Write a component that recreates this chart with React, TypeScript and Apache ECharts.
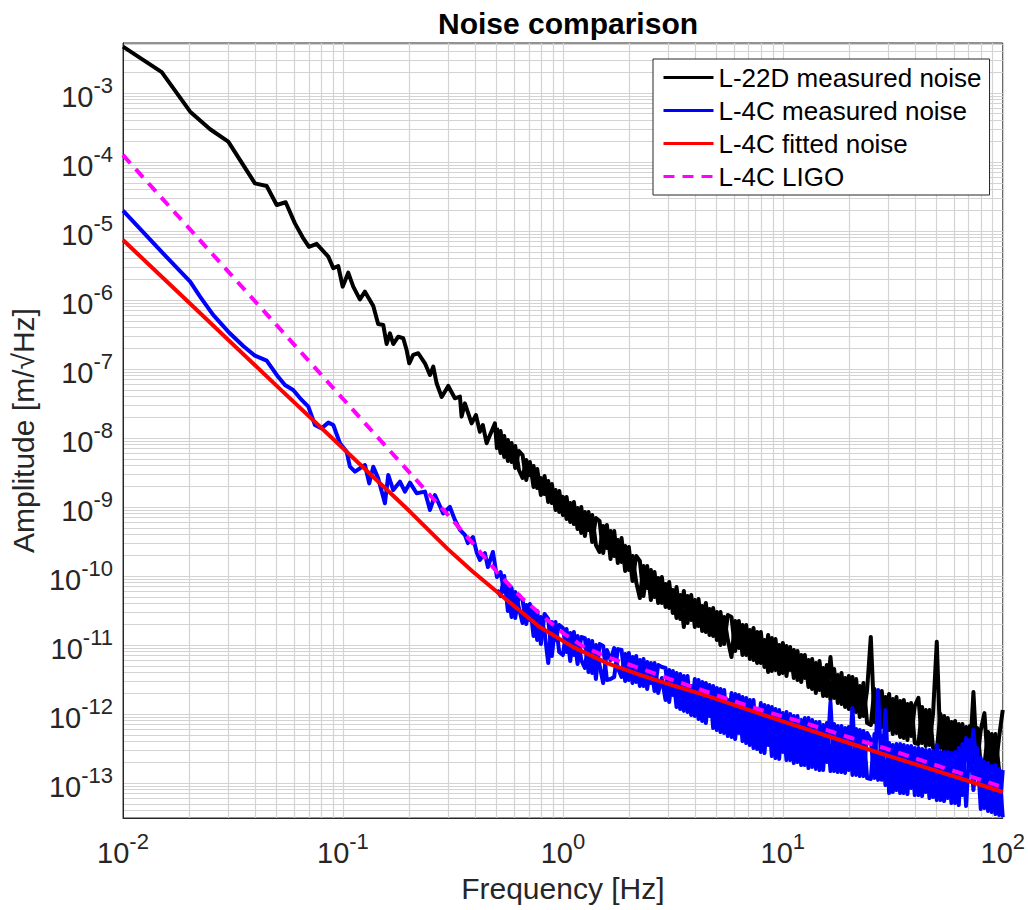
import React, { useEffect, useRef } from "react";
import * as echarts from "echarts";

const FONT = "'Liberation Sans', Arial, Helvetica, sans-serif";

// ---------- data (frequency in Hz, amplitude in m/sqrt(Hz)) ----------
const blackLowF = [0.01, 0.015, 0.0202, 0.0249, 0.0301, 0.0398, 0.045, 0.05, 0.0549, 0.0605, 0.0656, 0.0701, 0.0759, 0.0858, 0.0904, 0.0952, 0.0997, 0.1057, 0.1114, 0.1194, 0.1259, 0.1374, 0.1446, 0.1525, 0.158, 0.1636, 0.1693, 0.1784, 0.188, 0.1948, 0.2002, 0.2087, 0.22, 0.236, 0.2487, 0.2574, 0.2667, 0.2811, 0.3012, 0.3228, 0.3404, 0.3463, 0.3585, 0.3846, 0.4023, 0.4195, 0.4327, 0.45, 0.4658, 0.491];
const blackLowA = [4.7e-3, 2.0e-3, 5.36e-4, 2.98e-4, 1.97e-4, 4.9e-5, 4.49e-5, 2.38e-5, 2.61e-5, 1.29e-5, 8.1e-6, 5.9e-6, 6.5e-6, 4.25e-6, 2.88e-6, 3.11e-6, 1.56e-6, 2.49e-6, 1.56e-6, 1.02e-6, 1.32e-6, 8.2e-7, 4.49e-7, 4.35e-7, 2.3e-7, 3.29e-7, 2.3e-7, 2.94e-7, 2.79e-7, 1.88e-7, 1.21e-7, 1.6e-7, 1.69e-7, 1.21e-7, 8.2e-8, 1.08e-7, 6.2e-8, 3.93e-8, 5.68e-8, 3.76e-8, 3.97e-8, 2.04e-8, 3.18e-8, 1.63e-8, 2.15e-8, 1.23e-8, 1.54e-8, 8.4e-9, 1.1e-8, 1.63e-8];

const blueLowF = [0.01, 0.0147, 0.0202, 0.0224, 0.0257, 0.0306, 0.0352, 0.0398, 0.045, 0.05, 0.0545, 0.0594, 0.0649, 0.0696, 0.0746, 0.08, 0.0858, 0.0904, 0.0969, 0.104, 0.1076, 0.1134, 0.1194, 0.1259, 0.1317, 0.1374, 0.1446, 0.1552, 0.1607, 0.1693, 0.1816, 0.1914, 0.2017, 0.2163, 0.236, 0.2487, 0.2619, 0.2857, 0.3064, 0.3228, 0.3404, 0.3585, 0.37, 0.39, 0.4064, 0.4195, 0.4419, 0.456, 0.4808];
const blueLowA = [1.97e-5, 5.31e-6, 1.84e-6, 1.12e-6, 6.07e-7, 3.29e-7, 2.15e-7, 1.56e-7, 1.32e-7, 8.2e-8, 5.86e-8, 4.97e-8, 3.56e-8, 2.85e-8, 1.54e-8, 1.38e-8, 1.67e-8, 1.54e-8, 8.4e-9, 6.3e-9, 3.84e-9, 3.25e-9, 3.64e-9, 4.06e-9, 2.2e-9, 3.84e-9, 2.6e-9, 1.13e-9, 2.91e-9, 1.76e-9, 2.33e-9, 1.67e-9, 2.25e-9, 1.58e-9, 1.67e-9, 9.06e-10, 1.49e-9, 8.1e-10, 1.0e-9, 6.5e-10, 4.65e-10, 3.93e-10, 3.0e-10, 3.67e-10, 2.15e-10, 1.71e-10, 2.15e-10, 1.35e-10, 2.23e-10];

// shared frequency bins of the dense (noisy) high-frequency part
const denseF = [
  0.5012, 0.5208, 0.5412, 0.5623, 0.5843, 0.6072, 0.631, 0.6556, 0.6813, 0.7079, 0.7356, 0.7644, 0.7943, 0.8254, 0.8577, 0.8913, 0.9261, 0.9624,
  1.0, 1.039, 1.08, 1.122, 1.166, 1.212, 1.259, 1.308, 1.359, 1.413, 1.468, 1.525, 1.585, 1.647, 1.711, 1.778, 1.848, 1.92, 1.995, 2.073,
  2.154, 2.239, 2.326, 2.417, 2.512, 2.61, 2.712, 2.818, 2.929, 3.043, 3.162, 3.286, 3.415, 3.548, 3.687, 3.831, 3.981, 4.137, 4.299, 4.467,
  4.642, 4.823, 5.012, 5.208, 5.412, 5.623, 5.843, 6.072, 6.31, 6.556, 6.813, 7.079, 7.356, 7.644, 7.943, 8.254, 8.577, 8.913, 9.261, 9.624,
  10.0, 10.39, 10.8, 11.22, 11.66, 12.12, 12.59, 13.08, 13.59, 14.13, 14.68, 15.25, 15.85, 16.47, 17.11, 17.78, 18.48, 19.2, 19.95, 20.73,
  21.54, 22.39, 23.26, 24.17, 25.12, 26.1, 27.12, 28.18, 29.29, 30.43, 31.62, 32.86, 34.15, 35.48, 36.87, 38.31, 39.81, 41.37, 42.99, 44.67,
  46.42, 48.23, 50.12, 52.08, 54.12, 56.23, 58.43, 60.72, 63.1, 65.56, 68.13, 70.79, 73.56, 76.44, 79.43, 82.54, 85.77, 89.13, 92.61, 96.24,
  100.0,
];
// upper / lower excursions of the L-22D spectrum in each bin
const blackDenseA = [
  7.15e-9, 1.26e-8, 5.3e-9, 9.34e-9, 4.49e-9, 7.64e-9, 3.44e-9, 2.63e-9, 4.79e-9, 2.91e-9, 3.93e-9, 1.88e-9, 2.63e-9, 1.54e-9, 2.38e-9, 1.14e-9, 1.76e-9, 8.45e-10,
  1.4e-9, 6.69e-10, 1.14e-9, 5.66e-10, 9.65e-10, 4.2e-10, 8.45e-10, 4.64e-10, 7.64e-10, 2.81e-10, 2.23e-10, 5.3e-10, 2.54e-10, 4.49e-10, 1.95e-10, 3.32e-10, 1.6e-10, 2.72e-10, 1.22e-10, 1.95e-10,
  8.17e-11, 4.79e-11, 1.4e-10, 6.69e-11, 1.22e-10, 4.96e-11, 9.34e-11, 4.06e-11, 7.64e-11, 3.44e-11, 6.26e-11, 2.46e-11, 5.3e-11, 1.82e-11, 5.12e-11, 2.3e-11, 4.49e-11, 1.88e-11, 3.67e-11, 1.54e-11,
  3.32e-11, 1.35e-11, 3.01e-11, 1.0e-11, 2.54e-11, 1.18e-11, 6.69e-12, 2.23e-11, 9.03e-12, 1.95e-11, 7.15e-12, 1.65e-11, 6.05e-12, 1.54e-11, 5.48e-12, 1.18e-11, 4.06e-12, 1.26e-11, 4.34e-12, 1.0e-11,
  3.93e-12, 9.65e-12, 4.34e-12, 8.45e-12, 3.11e-12, 7.15e-12, 3.32e-12, 6.05e-12, 2.3e-12, 5.48e-12, 2.23e-12, 4.64e-12, 1.82e-12, 6.69e-12, 1.71e-12, 3.67e-12, 1.4e-12, 3.32e-12, 1.18e-12, 3.44e-12,
  1.07e-12, 2.54e-12, 9.34e-13, 2.23e-12, 1.31e-11, 7.64e-13, 1.95e-12, 6.47e-13, 1.76e-12, 5.86e-13, 1.65e-12, 5.3e-13, 1.54e-12, 4.49e-13, 1.4e-12, 4.79e-13, 1.31e-12, 1.71e-12, 3.8e-13, 1.14e-12,
  3.55e-13, 1.03e-12, 1.11e-11, 3.21e-13, 9.34e-13, 2.81e-13, 7.64e-13, 2.54e-13, 7.15e-13, 2.3e-13, 6.47e-13, 2.38e-13, 2.08e-12, 2.01e-13, 5.86e-13, 1.03e-12, 1.65e-13, 5.12e-13, 1.54e-13, 4.64e-13,
  1.14e-12,
];
const blackDenseA2 = [
  1.4e-8, 6.05e-9, 1.07e-8, 4.64e-9, 8.45e-9, 3.67e-9, 6.47e-9, 5.66e-9, 2.46e-9, 4.49e-9, 1.95e-9, 3.55e-9, 1.49e-9, 2.81e-9, 1.18e-9, 2.15e-9, 9.03e-10, 1.71e-9,
  7.64e-10, 1.4e-9, 6.05e-10, 1.18e-9, 4.79e-10, 1.0e-9, 3.8e-10, 8.45e-10, 3.11e-10, 6.92e-10, 6.26e-10, 2.15e-10, 5.48e-10, 1.76e-10, 4.49e-10, 1.54e-10, 3.55e-10, 1.18e-10, 2.63e-10, 8.45e-11,
  1.95e-10, 1.65e-10, 5.12e-11, 1.4e-10, 4.49e-11, 1.14e-10, 4.06e-11, 9.65e-11, 3.55e-11, 8.17e-11, 2.91e-11, 6.92e-11, 2.38e-11, 6.05e-11, 2.08e-11, 5.3e-11, 1.82e-11, 4.64e-11, 1.6e-11, 4.06e-11,
  1.4e-11, 3.44e-11, 1.18e-11, 3.01e-11, 1.03e-11, 2.72e-11, 2.54e-11, 8.17e-12, 2.23e-11, 7.15e-12, 1.95e-11, 6.26e-12, 1.76e-11, 5.48e-12, 1.54e-11, 4.79e-12, 1.4e-11, 4.2e-12, 1.22e-11, 3.8e-12,
  1.07e-11, 3.55e-12, 9.34e-12, 3.32e-12, 8.17e-12, 2.91e-12, 7.15e-12, 2.46e-12, 6.26e-12, 2.01e-12, 5.86e-12, 1.82e-12, 5.12e-12, 1.6e-12, 4.49e-12, 1.44e-12, 3.93e-12, 1.26e-12, 3.55e-12, 1.07e-12,
  3.21e-12, 9.03e-13, 2.81e-12, 7.39e-13, 6.92e-13, 2.3e-12, 6.26e-13, 2.15e-12, 5.66e-13, 1.95e-12, 5.12e-13, 1.76e-12, 4.64e-13, 1.6e-12, 4.2e-13, 1.44e-12, 3.8e-13, 3.67e-13, 1.26e-12, 3.44e-13,
  1.14e-12, 3.21e-13, 3.01e-13, 1.0e-12, 2.81e-13, 8.73e-13, 2.54e-13, 7.9e-13, 2.38e-13, 7.15e-13, 2.23e-13, 6.69e-13, 2.01e-13, 6.26e-13, 1.88e-13, 1.82e-13, 5.48e-13, 1.65e-13, 5.12e-13, 1.49e-13,
  1.44e-13,
];
// upper / lower excursions of the L-4C spectrum in each bin
const blueDenseA = [
  9.65e-11, 1.14e-10, 5.86e-11, 6.92e-11, 2.54e-11, 5.86e-11, 3.44e-11, 2.08e-11, 3.8e-11, 2.3e-11, 3.32e-11, 1.18e-11, 2.54e-11, 1.54e-11, 5.48e-12, 2.15e-11, 1.18e-11, 1.95e-11,
  1.76e-11, 7.9e-12, 1.49e-11, 7.15e-12, 1.35e-11, 6.05e-12, 4.64e-12, 1.18e-11, 3.93e-12, 1.0e-11, 5.12e-12, 2.81e-12, 8.45e-12, 6.05e-12, 9.03e-12, 4.64e-12, 3.44e-12, 7.39e-12, 3.11e-12, 6.69e-12,
  2.91e-12, 6.05e-12, 2.54e-12, 5.66e-12, 2.81e-12, 5.48e-12, 2.01e-12, 3.32e-12, 1.6e-12, 4.34e-12, 1.88e-12, 3.93e-12, 1.18e-12, 3.55e-12, 1.07e-12, 2.54e-12, 9.34e-13, 3.11e-12, 7.9e-13, 2.81e-12,
  9.34e-13, 2.54e-12, 5.86e-13, 2.3e-12, 5.3e-13, 1.6e-12, 4.64e-13, 1.95e-12, 5.3e-13, 1.76e-12, 3.8e-13, 1.6e-12, 3.21e-13, 1.14e-12, 2.81e-13, 1.35e-12, 3.55e-13, 1.26e-12, 2.3e-13, 1.14e-12,
  2.81e-13, 1.07e-12, 2.15e-13, 9.34e-13, 2.01e-13, 8.17e-13, 1.82e-13, 8.73e-13, 1.71e-13, 7.64e-13, 1.54e-13, 6.92e-13, 2.01e-13, 1.49e-12, 1.49e-13, 6.69e-13, 1.44e-13, 6.26e-13, 1.54e-13, 1.22e-12,
  1.31e-13, 5.86e-13, 1.26e-13, 5.3e-13, 4.2e-13, 1.18e-13, 2.23e-12, 1.11e-13, 1.14e-12, 7.15e-14, 3.55e-13, 7.9e-14, 3.67e-13, 7.15e-14, 3.44e-13, 8.45e-14, 3.21e-13, 6.69e-14, 3.11e-13, 7.39e-14,
  3.01e-13, 6.26e-14, 3.55e-13, 5.66e-14, 2.81e-13, 6.05e-14, 2.72e-13, 5.12e-14, 3.21e-13, 6.69e-14, 4.49e-13, 1.54e-13, 5.86e-13, 1.31e-13, 2.3e-13, 4.34e-14, 1.95e-13, 3.8e-14, 1.82e-13, 3.44e-14,
  1.54e-13,
];
const blueDenseA2 = [
  6.26e-11, 5.12e-11, 1.0e-10, 3.11e-11, 6.69e-11, 2.46e-11, 5.3e-11, 4.49e-11, 2.01e-11, 3.93e-11, 1.35e-11, 3.11e-11, 1.03e-11, 2.81e-11, 2.38e-11, 6.92e-12, 2.15e-11, 7.9e-12,
  7.15e-12, 1.71e-11, 5.86e-12, 1.54e-11, 5.3e-12, 1.31e-11, 1.26e-11, 4.06e-12, 1.14e-11, 3.21e-12, 1.03e-11, 9.65e-12, 3.11e-12, 3.21e-12, 3.44e-12, 8.73e-12, 8.45e-12, 3.01e-12, 7.64e-12, 2.81e-12,
  6.92e-12, 2.54e-12, 6.26e-12, 2.3e-12, 5.48e-12, 2.15e-12, 5.12e-12, 4.79e-12, 4.64e-12, 1.49e-12, 4.2e-12, 1.26e-12, 3.8e-12, 1.11e-12, 3.55e-12, 9.65e-13, 3.21e-12, 8.45e-13, 2.91e-12, 7.39e-13,
  2.63e-12, 6.26e-13, 2.38e-12, 5.48e-13, 2.23e-12, 4.79e-13, 2.01e-12, 4.34e-13, 1.88e-12, 4.06e-13, 1.71e-12, 3.55e-13, 1.6e-12, 3.11e-13, 1.44e-12, 2.72e-13, 1.31e-12, 2.46e-13, 1.18e-12, 2.23e-13,
  1.03e-12, 2.15e-13, 1.0e-12, 1.95e-13, 9.34e-13, 1.82e-13, 8.73e-13, 1.65e-13, 8.17e-13, 1.6e-13, 7.64e-13, 1.54e-13, 7.39e-13, 1.49e-13, 7.15e-13, 1.44e-13, 6.69e-13, 1.4e-13, 6.47e-13, 1.31e-13,
  6.05e-13, 1.26e-13, 5.66e-13, 1.18e-13, 1.14e-13, 5.12e-13, 1.11e-13, 4.79e-13, 9.34e-14, 3.8e-13, 7.39e-14, 3.67e-13, 7.15e-14, 3.55e-13, 6.92e-14, 3.44e-13, 6.69e-14, 3.21e-13, 6.47e-14, 3.01e-13,
  6.05e-14, 2.91e-13, 5.66e-14, 2.81e-13, 5.48e-14, 2.81e-13, 5.12e-14, 2.81e-13, 4.79e-14, 3.67e-13, 4.64e-14, 4.2e-13, 7.9e-14, 3.21e-13, 4.2e-14, 2.01e-13, 3.93e-14, 1.76e-13, 3.55e-14, 1.6e-13,
  3.21e-14,
];

const redF = [0.01, 0.02, 0.05, 0.1, 0.2, 0.3, 0.39, 0.556, 0.785, 1.11, 1.58, 2.24, 3.16, 4.5, 7, 10, 20, 30, 50, 70, 100];
const redA = [7.4e-6, 9.1e-7, 5.7e-8, 7.1e-9, 8.8e-10, 2.45e-10, 1.15e-10, 4.5e-11, 1.82e-11, 9.4e-12, 5.5e-12, 3.7e-12, 2.6e-12, 1.85e-12, 1.15e-12, 7.8e-13, 3.8e-13, 2.5e-13, 1.5e-13, 1.07e-13, 7.4e-14];

const magF = [0.01, 0.02, 0.05, 0.1, 0.2, 0.3, 0.4, 0.5, 0.65, 0.8, 1.0, 1.23, 1.585, 2.24, 3.16, 4.5, 6.4, 8.5, 12, 20, 30, 50, 70, 100];
const magA = [1.26e-4, 1.09e-5, 4.3e-7, 3.7e-8, 3.2e-9, 7.7e-10, 2.7e-10, 1.15e-10, 4.8e-11, 2.7e-11, 1.5e-11, 9.6e-12, 6.7e-12, 4.6e-12, 3.1e-12, 2.1e-12, 1.44e-12, 1.07e-12, 7.8e-13, 4.6e-13, 3.1e-13, 1.8e-13, 1.27e-13, 8.7e-14];

const seriesNames = ["L-22D measured noise", "L-4C measured noise", "L-4C fitted noise", "L-4C LIGO"];
const seriesColors = ["#000000", "#0000ff", "#ff0000", "#ff00ff"];

const xTickValues = [0.01, 0.1, 1, 10, 100];
const yTickValues = [1e-13, 1e-12, 1e-11, 1e-10, 1e-9, 1e-8, 1e-7, 1e-6, 1e-5, 1e-4, 1e-3];
const X_MIN = 0.01;
const X_MAX = 100;
const Y_MIN = 3.11e-14;
const Y_MAX = 5.3e-3;

// ---------- helpers ----------
const pairs = (f: number[], a: number[]) => f.map((v, i) => [v, a[i]]);

function logGridValues(lo: number, hi: number): number[] {
  const out: number[] = [];
  const e0 = Math.floor(Math.log10(lo));
  const e1 = Math.ceil(Math.log10(hi));
  for (let e = e0; e <= e1; e++) {
    for (let m = 1; m <= 9; m++) {
      const v = parseFloat((m * Math.pow(10, e)).toPrecision(3));
      if (v >= lo && v <= hi) out.push(v);
    }
  }
  return out;
}

const labelRich = {
  b: { fontSize: 29, fontFamily: FONT, color: "#262626", padding: [8, 0, 0, 0] },
  s: { fontSize: 22, fontFamily: FONT, color: "#262626", padding: [0, 0, 14, 0] },
};
const powFormatter = (v: number) => `{b|10}{s|${Math.round(Math.log10(v))}}`;

export default function App() {
  const ref = useRef<HTMLDivElement>(null);

  useEffect(() => {
    if (!ref.current) return;
    const chart = echarts.init(ref.current, undefined, { renderer: "svg" });

    const xGrid = logGridValues(X_MIN, X_MAX);
    const yGrid = logGridValues(Y_MIN, Y_MAX);
    const gridLine = { show: true, lineStyle: { color: "#d3d3d3", width: 1.2 } };

    // [name index, data]
    const traces: [number, number[][]][] = [
      [0, pairs(blackLowF, blackLowA).concat(pairs(denseF, blackDenseA))],
      [0, pairs(denseF, blackDenseA2)],
      [1, pairs(blueLowF, blueLowA).concat(pairs(denseF, blueDenseA))],
      [1, pairs(denseF, blueDenseA2)],
      [2, pairs(redF, redA)],
      [3, pairs(magF, magA)],
    ];

    const option: any = {
      animation: false,
      backgroundColor: "#ffffff",
      title: {
        text: "Noise comparison",
        left: 563,
        textAlign: "center",
        top: 3,
        textStyle: { fontSize: 30, fontWeight: "bold", color: "#000000", fontFamily: FONT },
      },
      grid: {
        left: 123,
        right: 25,
        top: 43,
        bottom: 92,
        show: true,
        borderColor: "#262626",
        borderWidth: 1,
        backgroundColor: "transparent",
      },
      legend: {
        data: seriesNames,
        orient: "vertical",
        left: 653,
        top: 59,
        itemWidth: 50,
        itemHeight: 14,
        itemGap: 6,
        padding: [5, 8, 5, 9],
        backgroundColor: "#ffffff",
        borderColor: "#262626",
        borderWidth: 1,
        borderRadius: 0,
        selectedMode: false,
        itemStyle: { opacity: 0 },
        lineStyle: { width: 3 },
        textStyle: { fontSize: 26, color: "#000000", fontFamily: FONT, lineHeight: 27 },
      },
      xAxis: {
        type: "log",
        logBase: 10,
        min: X_MIN,
        max: X_MAX,
        name: "Frequency [Hz]",
        nameLocation: "middle",
        nameGap: 55,
        nameTextStyle: { fontSize: 30, color: "#262626", fontFamily: FONT },
        axisLine: { show: true, lineStyle: { color: "#262626", width: 1 } },
        axisTick: { show: false, customValues: xGrid },
        splitLine: { ...gridLine, customValues: xGrid },
        minorSplitLine: { show: false },
        axisLabel: {
          customValues: xTickValues,
          formatter: powFormatter,
          rich: labelRich,
          margin: 12,
          showMinLabel: true,
          showMaxLabel: true,
        },
      },
      yAxis: {
        type: "log",
        logBase: 10,
        min: Y_MIN,
        max: Y_MAX,
        name: "Amplitude [m/\u221AHz]",
        nameLocation: "middle",
        nameGap: 77,
        nameTextStyle: { fontSize: 30, color: "#262626", fontFamily: FONT },
        axisLine: { show: true, lineStyle: { color: "#262626", width: 1 } },
        axisTick: { show: false, customValues: yGrid },
        splitLine: { ...gridLine, customValues: yGrid },
        minorSplitLine: { show: false },
        axisLabel: {
          customValues: yTickValues,
          formatter: powFormatter,
          rich: labelRich,
          margin: 10,
        },
      },
      series: traces.map(([k, data], j) => ({
        name: seriesNames[k],
        type: "line",
        data,
        symbol: "none",
        showSymbol: false,
        silent: true,
        clip: true,
        itemStyle: { color: seriesColors[k] },
        lineStyle: {
          color: seriesColors[k],
          width: 4,
          type: k === 3 ? [11, 8] : "solid",
          join: "round",
        },
        z: 2 + j,
      })),
    };

    chart.setOption(option);
    return () => chart.dispose();
  }, []);

  return (
    <div
      ref={ref}
      style={{ position: "absolute", left: 0, top: 0, width: 1028, height: 910, background: "#fff" }}
    />
  );
}
